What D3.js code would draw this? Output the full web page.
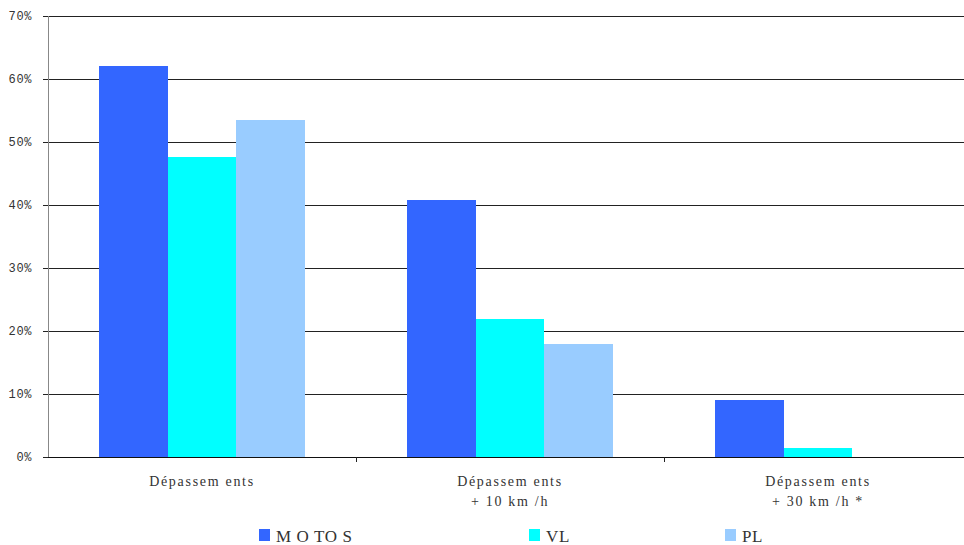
<!DOCTYPE html>
<html>
<head>
<meta charset="utf-8">
<script src="https://cdn.jsdelivr.net/npm/d3@7"></script>
<style>
  body { margin: 0; background: #fff; }
  text { font-family: "Liberation Mono", "Courier New", monospace; fill: #333; }
  .serif { font-family: "Liberation Serif", "Times New Roman", serif; }
</style>
</head>
<body>
<script>
// Data
let categories = ["Dépassem ents", "Dépassem ents\n+ 10 km /h", "Dépassem ents\n+ 30 km /h *"];
let seriesNames = ["M O TO S", "VL", "PL"];
let motos = [62, 40.8, 9.0];
let vl = [47.6, 21.9, 1.4];
let pl = [53.5, 17.9, 0];
let yTicks = [0, 10, 20, 30, 40, 50, 60, 70];
let colors = ["#3366FF", "#00FFFF", "#99CCFF"];

let w = 964, h = 545;
let plotLeft = 48, plotRight = 972, plotTop = 16, plotBottom = 457;

let values = [motos, vl, pl];

let svg = d3.select("body")
  .append("svg")
  .attr("width", w)
  .attr("height", h);

// Scales
let xScale = d3.scaleBand()
  .domain(categories)
  .range([plotLeft, plotRight])
  .paddingInner(0)
  .paddingOuter(0);

let xInner = d3.scaleBand()
  .domain(seriesNames)
  .range([51, xScale.bandwidth() - 51]);

let yScale = d3.scaleLinear()
  .domain([0, 70])
  .range([plotBottom, plotTop]);

// Gridlines
svg.append("g")
  .selectAll("line")
  .data(yTicks.filter(d => d > 0))
  .enter()
  .append("line")
  .attr("x1", plotLeft)
  .attr("x2", w)
  .attr("y1", d => yScale(d))
  .attr("y2", d => yScale(d))
  .attr("stroke", "#222")
  .attr("stroke-width", 1)
  .attr("shape-rendering", "crispEdges");

// Bars
seriesNames.forEach((s, i) => {
  svg.append("g")
    .selectAll("rect")
    .data(values[i])
    .enter()
    .append("rect")
    .attr("x", (d, j) => xScale(categories[j]) + xInner(s))
    .attr("width", xInner.bandwidth())
    .attr("y", d => yScale(d))
    .attr("height", d => yScale(0) - yScale(d))
    .attr("fill", colors[i])
    .attr("shape-rendering", "crispEdges");
});

// Y axis
let yAxis = d3.axisLeft(yScale)
  .tickValues(yTicks)
  .tickSize(5)
  .tickFormat(d => d + "%");

let yg = svg.append("g")
  .attr("transform", "translate(" + plotLeft + ",0)")
  .call(yAxis);
yg.select(".domain").attr("stroke", "#888").attr("shape-rendering", "crispEdges");
yg.selectAll(".tick line").attr("stroke", "#222").attr("shape-rendering", "crispEdges");
yg.selectAll(".tick text")
  .attr("x", -16)
  .style("font-size", "12px")
  .style("letter-spacing", "0.6px")
  .attr("fill", "#444");

// X axis baseline with separators
svg.append("line")
  .attr("x1", plotLeft)
  .attr("x2", w)
  .attr("y1", plotBottom)
  .attr("y2", plotBottom)
  .attr("stroke", "#111")
  .attr("shape-rendering", "crispEdges");

svg.append("g")
  .selectAll("line")
  .data(categories.slice(1))
  .enter()
  .append("line")
  .attr("x1", d => xScale(d))
  .attr("x2", d => xScale(d))
  .attr("y1", plotBottom)
  .attr("y2", plotBottom + 5)
  .attr("stroke", "#222")
  .attr("shape-rendering", "crispEdges");

// Category labels
let catLabels = svg.append("g")
  .selectAll("text")
  .data(categories)
  .enter()
  .append("text")
  .attr("class", "serif")
  .attr("text-anchor", "middle")
  .style("font-size", "14px")
  .style("letter-spacing", "1.7px")
  .attr("fill", "#333");

catLabels.each(function(d) {
  let lines = d.split("\n");
  d3.select(this).selectAll("tspan")
    .data(lines)
    .enter()
    .append("tspan")
    .attr("x", xScale(d) + xScale.bandwidth() / 2)
    .attr("y", (l, k) => 486 + k * 20)
    .text(l => l);
});

// Legend
let legendX = [259, 529, 725];
let legend = svg.append("g")
  .selectAll("g")
  .data(seriesNames)
  .enter()
  .append("g")
  .attr("transform", (d, i) => "translate(" + legendX[i] + ",529)");

legend.append("rect")
  .attr("width", 11)
  .attr("height", 12)
  .attr("fill", (d, i) => colors[i]);

legend.append("text")
  .attr("class", "serif")
  .attr("x", 17)
  .attr("y", 13)
  .style("font-size", "17px")
  .style("letter-spacing", "0.6px")
  .attr("fill", "#333")
  .text(d => d);
</script>
</body>
</html>
